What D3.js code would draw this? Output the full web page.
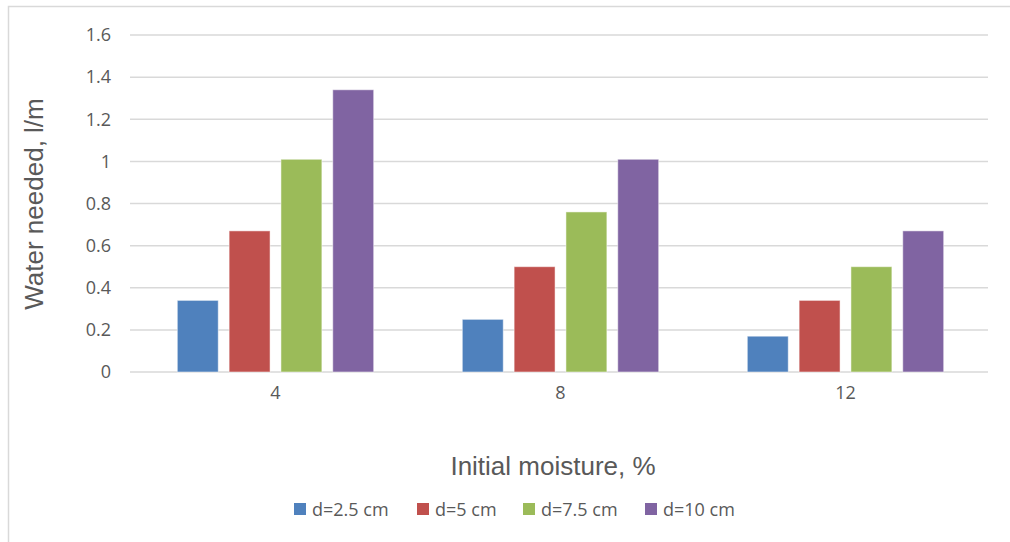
<!DOCTYPE html>
<html>
<head>
<meta charset="utf-8">
<script src="https://cdn.jsdelivr.net/npm/d3@7"></script>
<style>
  body { margin: 0; background: #fff; }
  text { fill: #595959; }
</style>
</head>
<body>
<svg id="chart" width="1010" height="542"></svg>
<script>
// data
const categories = ["4", "8", "12"]
const series = ["d=2.5 cm", "d=5 cm", "d=7.5 cm", "d=10 cm"]
const d25 = [0.34, 0.25, 0.17]
const d5 = [0.67, 0.50, 0.34]
const d75 = [1.01, 0.76, 0.50]
const d10 = [1.34, 1.01, 0.67]
const yTicks = [0, 0.2, 0.4, 0.6, 0.8, 1, 1.2, 1.4, 1.6]
const colors = ["#4F81BD", "#C0504D", "#9BBB59", "#8064A2"]

const values = [d25, d5, d75, d10]
const rows = categories.map((c, i) => ({ cat: c, vals: values.map(v => v[i]) }))

let svg = d3.select('#chart')

// outer frame (right and bottom run off the picture)
svg.append('rect')
    .attr('x', 8.5).attr('y', 6.5)
    .attr('width', 1010).attr('height', 560)
    .attr('fill', 'none')
    .attr('stroke', '#d9d9d9')
    .attr('stroke-width', 1.5)

const plotLeft = 130, plotRight = 988, plotTop = 35, plotBottom = 372

// category bands sit a bit right of the gridline start
let x = d3.scaleBand().domain(categories).range([133, plotRight])
let xInner = d3.scaleBand().domain(d3.range(series.length))
    .range([0, x.bandwidth()]).paddingInner(0.21).paddingOuter(0.855)
let y = d3.scaleLinear().domain([0, 1.6]).range([plotBottom, plotTop])

// gridlines
svg.append('g')
    .selectAll('line')
    .data(yTicks)
    .join('line')
    .attr('x1', plotLeft).attr('x2', plotRight)
    .attr('y1', d => y(d)).attr('y2', d => y(d))
    .attr('stroke', '#d9d9d9')
    .attr('stroke-width', 1.5)

// y tick labels
let yAxis = svg.append('g')
    .attr('transform', `translate(${plotLeft},0)`)
    .call(d3.axisLeft(y).tickValues(yTicks).tickSize(0).tickPadding(19).tickFormat(d3.format('')))
yAxis.select('.domain').remove()
yAxis.selectAll('text')
    .attr('fill', '#595959')
    .style('font-family', 'Open Sans, sans-serif')
    .style('font-size', '18px')

// x tick labels
let xAxis = svg.append('g')
    .attr('transform', `translate(0,${plotBottom})`)
    .call(d3.axisBottom(x).tickSize(0).tickPadding(14))
xAxis.select('.domain').remove()
xAxis.selectAll('text')
    .attr('fill', '#595959')
    .style('font-family', 'Open Sans, sans-serif')
    .style('font-size', '18px')

// bars
svg.append('g')
    .selectAll('g')
    .data(rows)
    .join('g')
    .attr('transform', d => `translate(${x(d.cat)},0)`)
    .selectAll('rect')
    .data(d => d.vals)
    .join('rect')
    .attr('x', (d, i) => xInner(i))
    .attr('y', d => y(d))
    .attr('width', xInner.bandwidth())
    .attr('height', d => plotBottom - y(d))
    .attr('fill', (d, i) => colors[i])
    .attr('stroke', '#ffffff')
    .attr('stroke-opacity', 0.5)
    .attr('stroke-width', 1)

// axis titles
svg.append('text')
    .attr('transform', `translate(34,204) rotate(-90)`)
    .attr('text-anchor', 'middle')
    .attr('dominant-baseline', 'central')
    .style('font-family', 'Liberation Sans, Arial, sans-serif')
    .style('font-size', '26px')
    .text('Water needed, l/m')

svg.append('text')
    .attr('x', 553).attr('y', 466)
    .attr('text-anchor', 'middle')
    .attr('dominant-baseline', 'central')
    .style('font-family', 'Liberation Sans, Arial, sans-serif')
    .style('font-size', '26px')
    .text('Initial moisture, %')

// legend
const legendX = [294, 417, 523, 645]
let legend = svg.append('g')
    .selectAll('g')
    .data(series)
    .join('g')
    .attr('transform', (d, i) => `translate(${legendX[i]},503)`)
legend.append('rect')
    .attr('width', 12).attr('height', 12)
    .attr('fill', (d, i) => colors[i])
legend.append('text')
    .attr('x', 18).attr('y', 6)
    .attr('dominant-baseline', 'central')
    .style('font-family', 'Open Sans, sans-serif')
    .style('font-size', '18px')
    .text(d => d)
</script>
</body>
</html>
